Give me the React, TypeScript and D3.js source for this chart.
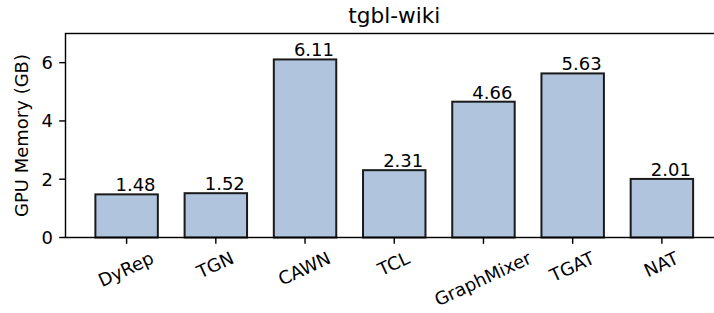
import React, { useEffect, useRef } from "react";
import * as d3 from "d3";

const categories = ["DyRep", "TGN", "CAWN", "TCL", "GraphMixer", "TGAT", "NAT"];
const memoryGB = [1.48, 1.52, 6.11, 2.31, 4.66, 5.63, 2.01];
const yTicks = [0, 2, 4, 6];
const title = "tgbl-wiki";
const yLabel = "GPU Memory (GB)";

const W = 714;
const H = 313;
const FONT = "'DejaVu Sans', sans-serif";

export default function App() {
  const ref = useRef<SVGSVGElement>(null);
  useEffect(() => {
    const svg = d3.select(ref.current);
    svg.selectAll("*").remove();
    const left = 65.5, top = 33.5, bottom = 237.5;
    const x = d3.scaleLinear().domain([-0.685, 6.685]).range([left, 723]);
    const y = d3.scaleLinear().domain([0, 7]).range([bottom, top]);
    const bw = x(0.7) - x(0);
    const fs = 18;

    // bars
    svg.append("g").selectAll("rect").data(memoryGB).join("rect")
      .attr("x", (_, i) => x(i) - bw / 2)
      .attr("y", (d) => y(d))
      .attr("width", bw)
      .attr("height", (d) => y(0) - y(d))
      .attr("fill", "#b0c4de")
      .attr("stroke", "#1a1a1a")
      .attr("stroke-width", 2);

    // value labels
    svg.append("g").selectAll("text").data(memoryGB).join("text")
      .attr("x", (_, i) => x(i + 0.1))
      .attr("y", (d) => y(d) - 3)
      .attr("text-anchor", "middle")
      .attr("font-family", FONT)
      .attr("font-size", fs)
      .attr("fill", "#000")
      .text((d) => d.toFixed(2));

    // spines
    svg.append("rect")
      .attr("x", left).attr("y", top)
      .attr("width", 723 - left).attr("height", bottom - top)
      .attr("fill", "none").attr("stroke", "#000").attr("stroke-width", 1.44);

    // y ticks
    const yg = svg.append("g");
    yTicks.forEach((t) => {
      yg.append("line").attr("x1", left - 6.3).attr("x2", left)
        .attr("y1", y(t)).attr("y2", y(t)).attr("stroke", "#000").attr("stroke-width", 1.44);
      yg.append("text").attr("x", left - 6.3 - 6.3).attr("y", y(t))
        .attr("dy", "0.36em").attr("text-anchor", "end")
        .attr("font-family", FONT).attr("font-size", fs).text(String(t));
    });

    // x ticks
    const xg = svg.append("g");
    const th = (25 * Math.PI) / 180;
    const a = 0.76 * fs, dd = 0.24 * fs;
    const m = (a - dd) / 2;
    categories.forEach((c, i) => {
      const cx = x(i);
      xg.append("line").attr("x1", cx).attr("x2", cx)
        .attr("y1", bottom).attr("y2", bottom + 6.3).attr("stroke", "#000").attr("stroke-width", 1.44);
      const t = xg.append("text").attr("text-anchor", "middle")
        .attr("font-family", FONT).attr("font-size", fs).text(c);
      const L = (t.node() as SVGTextElement).getComputedTextLength();
      const Hb = L * Math.sin(th) + (a + dd) * Math.cos(th);
      const cyc = bottom + 6.3 + 6.3 + Hb / 2;
      const px = cx + m * Math.sin(th);
      const py = cyc + m * Math.cos(th);
      t.attr("transform", `translate(${px},${py}) rotate(-25)`);
    });

    // title
    svg.append("text").attr("x", (left + 723) / 2 - 0).attr("y", top - 10.8)
      .attr("text-anchor", "middle").attr("font-family", FONT).attr("font-size", 21.6)
      .text(title);

    // y label
    svg.append("text")
      .attr("transform", `translate(28,${(top + bottom) / 2}) rotate(-90)`)
      .attr("text-anchor", "middle").attr("font-family", FONT).attr("font-size", fs)
      .text(yLabel);
  }, []);

  return (
    <svg ref={ref} width={W} height={H}
      style={{ position: "absolute", left: 0, top: 0, background: "#fff", overflow: "hidden" }} />
  );
}
